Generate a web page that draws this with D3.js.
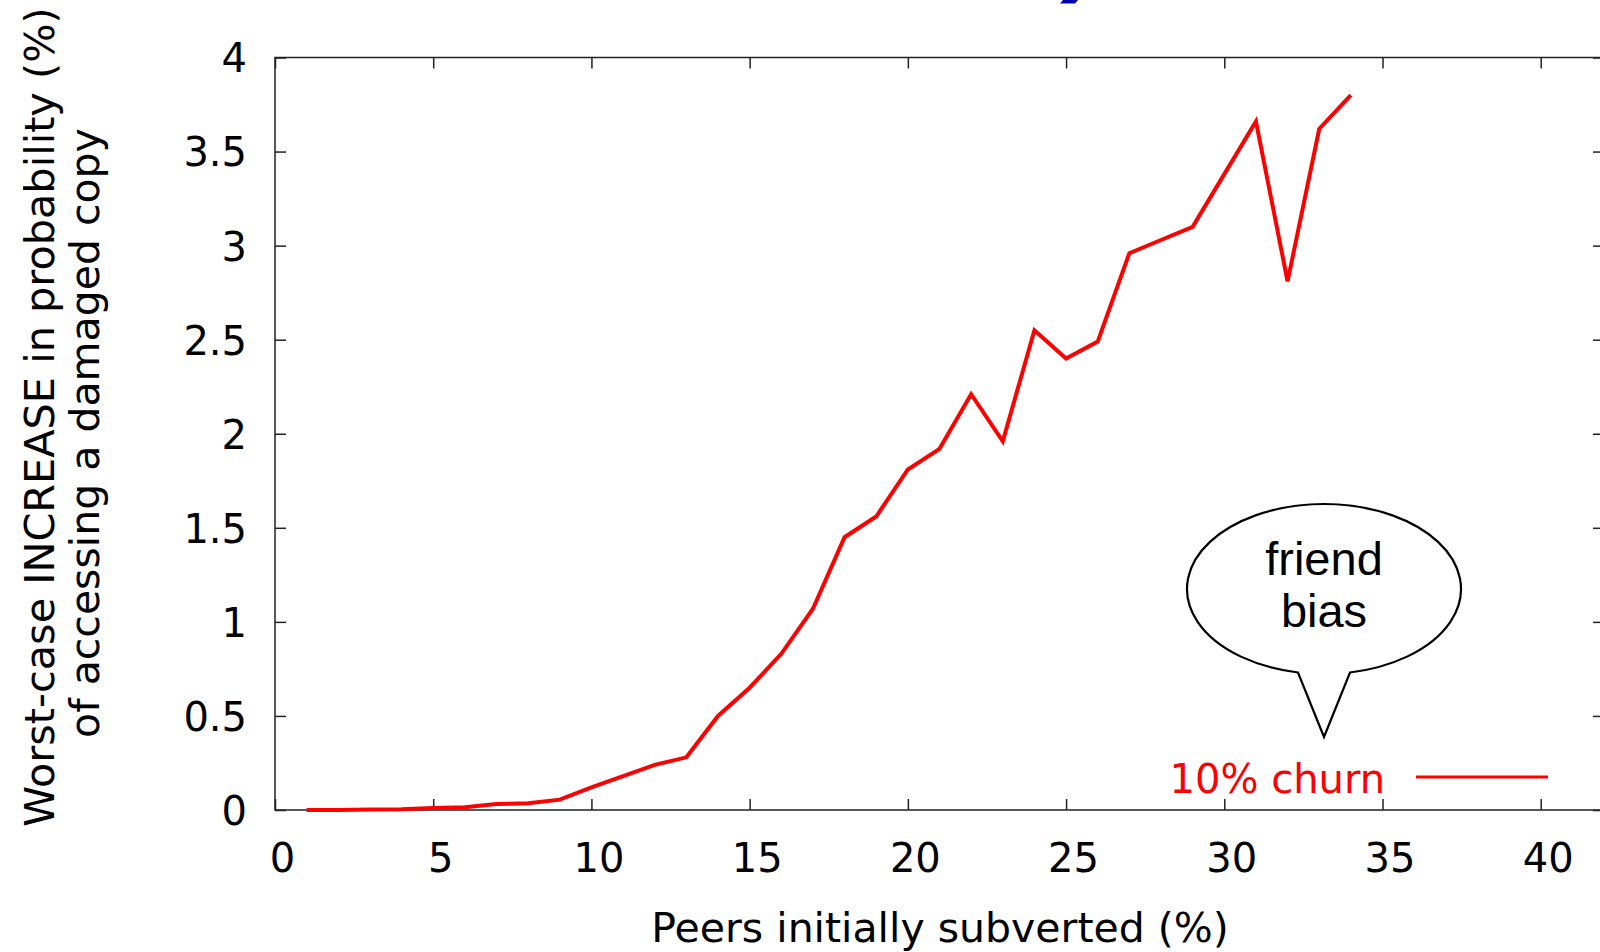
<!DOCTYPE html>
<html>
<head>
<meta charset="utf-8">
<script src="https://cdn.jsdelivr.net/npm/d3@7"></script>
<style>
  html, body { margin: 0; padding: 0; background: #fff; }
  svg { display: block; }
</style>
</head>
<body>
<div id="chart"></div>
<script>
// data: peers initially subverted (%) vs worst-case increase (%)
const peers = [1, 2, 3, 4, 5, 6, 7, 8, 9, 10, 11, 12, 13, 14, 15, 16, 17,
               18, 19, 20, 21, 22, 23, 24, 25, 26, 27, 28, 29, 30, 31, 32, 33, 34];
const churn10 = [0, 0, 0.002, 0.004, 0.01, 0.015, 0.032, 0.036, 0.055, 0.12, 0.18, 0.24, 0.28,
                 0.5, 0.65, 0.83, 1.07, 1.45, 1.56, 1.81, 1.92, 2.21, 1.96, 2.55, 2.40, 2.49,
                 2.96, 3.03, 3.10, 3.38, 3.66, 2.81, 3.62, 3.80];
const xTicks = [0, 5, 10, 15, 20, 25, 30, 35, 40];
const yTicks = [0, 0.5, 1, 1.5, 2, 2.5, 3, 3.5, 4];
const seriesName = "10% churn";
const bubbleLines = ["friend", "bias"];

// set the dimensions of the graph
const width = 1600;
const height = 952;
const plotLeft = 275, plotRight = 1604, plotTop = 57.5, plotBottom = 810;
const axisFont = "'DejaVu Sans', sans-serif";
const ink = "#222";

const svg = d3.select("#chart")
  .append("svg")
  .attr("width", width)
  .attr("height", height);

// scales (x runs a little past 40 so the right border sits off the page)
const x = d3.scaleLinear().domain([0, 42]).range([plotLeft, plotRight]);
const y = d3.scaleLinear().domain([0, 4]).range([plotBottom, plotTop]);

// bottom axis with labels, ticks point inward
const xAxis = svg.append("g")
  .attr("transform", `translate(0,${plotBottom})`)
  .call(d3.axisBottom(x).tickValues(xTicks).tickSize(-11).tickPadding(34));
xAxis.selectAll("text")
  .attr("dx", 7)
  .style("font-family", axisFont)
  .style("font-size", "40px")
  .style("fill", "#000");

// left axis with labels
const yAxis = svg.append("g")
  .attr("transform", `translate(${plotLeft},0)`)
  .call(d3.axisLeft(y).tickValues(yTicks).tickSize(-11).tickPadding(28).tickFormat(d3.format("")));
yAxis.selectAll("text")
  .attr("dy", "0.36em")
  .style("font-family", axisFont)
  .style("font-size", "40px")
  .style("fill", "#000");

// mirrored ticks on top and right
svg.append("g")
  .attr("transform", `translate(0,${plotTop})`)
  .call(d3.axisTop(x).tickValues(xTicks).tickSize(-11).tickFormat(""));
svg.append("g")
  .attr("transform", `translate(${plotRight},0)`)
  .call(d3.axisRight(y).tickValues(yTicks).tickSize(-11).tickFormat(""));

svg.selectAll(".domain").remove();
svg.selectAll(".tick line").attr("stroke", ink).attr("stroke-width", 1.5);

// plot border
svg.append("rect")
  .attr("x", plotLeft)
  .attr("y", plotTop)
  .attr("width", plotRight - plotLeft)
  .attr("height", plotBottom - plotTop)
  .attr("fill", "none")
  .attr("stroke", ink)
  .attr("stroke-width", 1.5);

// the data line
const line = d3.line()
  .x((d, i) => x(peers[i]))
  .y(d => y(d));

svg.append("path")
  .datum(churn10)
  .attr("d", line)
  .attr("fill", "none")
  .attr("stroke", "#ff0000")
  .attr("stroke-width", 4)
  .attr("stroke-linejoin", "miter");

// key
svg.append("text")
  .attr("x", 1385)
  .attr("y", 793)
  .attr("text-anchor", "end")
  .style("font-family", axisFont)
  .style("font-size", "40px")
  .style("fill", "#ff0000")
  .text(seriesName);
svg.append("line")
  .attr("x1", 1416).attr("x2", 1548)
  .attr("y1", 777).attr("y2", 777)
  .attr("stroke", "#ff0000")
  .attr("stroke-width", 3);

// axis titles
svg.append("text")
  .attr("x", 940)
  .attr("y", 942)
  .attr("text-anchor", "middle")
  .style("font-family", axisFont)
  .style("font-size", "41px")
  .text("Peers initially subverted (%)");

svg.append("text")
  .attr("transform", "translate(54,417) rotate(-90)")
  .attr("text-anchor", "middle")
  .style("font-family", axisFont)
  .style("font-size", "41.4px")
  .text("Worst-case INCREASE in probability (%)");
svg.append("text")
  .attr("transform", "translate(99,433) rotate(-90)")
  .attr("text-anchor", "middle")
  .style("font-family", axisFont)
  .style("font-size", "41px")
  .text("of accessing a damaged copy");

// speech bubble callout
const bx = 1324, by = 589, rx = 137, ry = 85;
svg.append("path")
  .attr("d", `M ${bx - 26} ${by + 0.982 * ry} A ${rx} ${ry} 0 1 1 ${bx + 26} ${by + 0.982 * ry} L ${bx} ${737} Z`)
  .attr("fill", "#fff")
  .attr("stroke", "#000")
  .attr("stroke-width", 2.2)
  .attr("stroke-linejoin", "miter");

svg.selectAll(".bubble-text")
  .data(bubbleLines)
  .join("text")
  .attr("class", "bubble-text")
  .attr("x", bx)
  .attr("y", (d, i) => 575 + i * 52)
  .attr("text-anchor", "middle")
  .style("font-family", "'Liberation Sans', Arial, sans-serif")
  .style("font-size", "47px")
  .text(d => d);

// cut-off blue mark at the very top of the page
svg.append("path")
  .attr("d", "M 1060 3.5 L 1075 3.5 L 1078 0 L 1063 0 Z")
  .attr("fill", "#0000a8");
</script>
</body>
</html>
